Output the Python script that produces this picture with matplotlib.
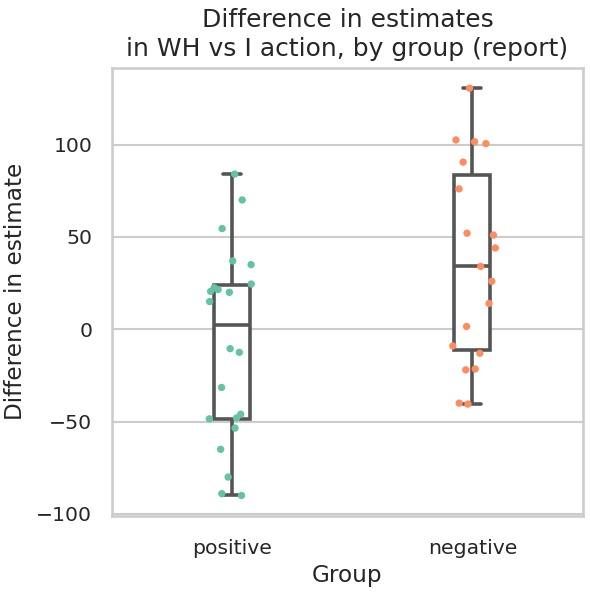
import numpy as np
import pandas as pd
import matplotlib
matplotlib.use("Agg")
import matplotlib.pyplot as plt
import seaborn as sns

# --- data ---
groups = ["positive", "negative"]
positive_vals = [84, 70, 54.5, 37, 35, 24.5, 22.5, 21.5, 20.5, 20, 15,
                 -10.5, -12.5, -31.5, -46, -48, -48.5, -53.5, -65, -80, -89, -90]
negative_vals = [130.5, 102.5, 101.5, 100.5, 90.5, 76, 52, 51, 44, 34, 26, 14,
                 1.5, -9, -13, -21.5, -22, -40, -40.5]
point_colors = ["#66c2a5", "#fc8d62"]

df = pd.DataFrame({
    "Group": ["positive"] * len(positive_vals) + ["negative"] * len(negative_vals),
    "Difference in estimate": positive_vals + negative_vals,
})

sns.set_theme(style="whitegrid", context="talk")

fig = plt.figure(figsize=(5.9, 5.95), dpi=100)
ax = fig.add_axes([0.19, 0.133, 0.798, 0.753])

sns.boxplot(data=df, x="Group", y="Difference in estimate", order=groups,
            width=0.15, color="white", linecolor="#555555", linewidth=2.6,
            showfliers=False, ax=ax)

np.random.seed(3)
sns.stripplot(data=df, x="Group", y="Difference in estimate", order=groups,
              hue="Group", palette=point_colors, jitter=0.1, size=5.3,
              legend=False, ax=ax)

ax.set_xlim(-0.5, 1.46)
ax.set_title("Difference in estimates\nin WH vs I action, by group (report)",
             fontsize=18, pad=8.5, linespacing=1.25)
ax.set_xlabel("Group", fontsize=16.7, labelpad=4.5)
ax.set_ylabel("Difference in estimate", fontsize=16.7, labelpad=6.6)
ax.tick_params(axis="x", labelsize=14.7, pad=7.5)
ax.tick_params(axis="y", labelsize=14.7, pad=5.3)

fig.savefig("out.png", dpi=100)
